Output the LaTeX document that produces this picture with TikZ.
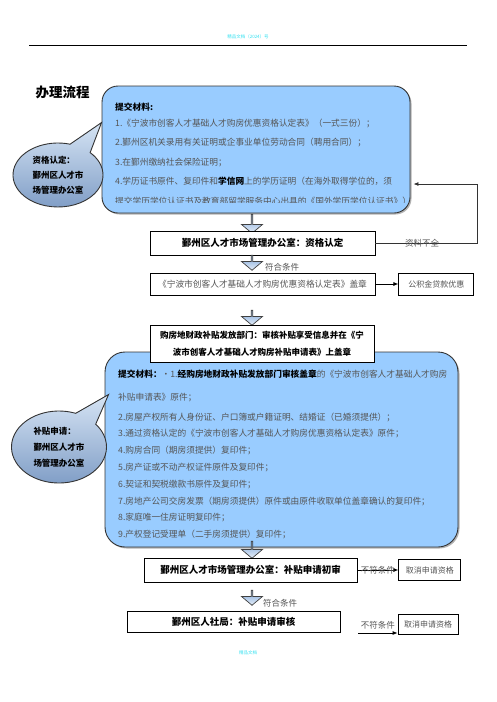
\documentclass[tikz,border=0pt]{standalone}
\usepackage{fontspec}
\setmainfont{Noto Sans CJK SC}
\usetikzlibrary{positioning,shapes.arrows,shapes.callouts,shadows,arrows.meta}

\definecolor{matblue}{HTML}{99CCFF}
\definecolor{txtgray}{HTML}{555555}
\definecolor{bubtop}{HTML}{D6E4F4}
\definecolor{bubbot}{HTML}{7F9DC6}
\definecolor{arrtop}{HTML}{7EA6DA}
\definecolor{arrbot}{HTML}{E6EEF8}
\definecolor{wmark}{HTML}{33E0F0}

\newcommand{\blk}[1]{\textcolor{black}{\bfseries #1}}

\tikzset{
  matbox/.style={draw=black!80, line width=0.9pt, fill=matblue, rounded corners=16pt,
    drop shadow={shadow xshift=1.5pt, shadow yshift=-1.5pt, opacity=0.6}},
  mattext/.style={anchor=north west, align=left, inner sep=0pt, text=txtgray,
    font=\fontsize{8.7}{19.5}\selectfont},
  bubble/.style={ellipse callout, draw=black!80, line width=0.9pt, top color=bubtop,
    bottom color=bubbot, callout pointer arc=30, inner sep=0pt, align=left},
  stepbox/.style={draw, line width=0.8pt, fill=white, inner sep=0pt,
    font=\fontsize{9.5}{12}\selectfont\bfseries},
  endbox/.style={draw, line width=0.8pt, fill=white, inner sep=0pt, text=txtgray,
    font=\fontsize{8}{10}\selectfont},
  downarr/.style={single arrow, shape border rotate=270, draw=black!75, line width=0.7pt,
    top color=arrtop, bottom color=arrbot, minimum width=21pt,
    single arrow head extend=5pt, single arrow tip angle=100, inner sep=0pt},
  lbl/.style={text=txtgray, font=\fontsize{8.5}{10}\selectfont, inner sep=0pt},
  wm/.style={text=wmark, font=\fontsize{4.5}{5}\selectfont, inner sep=0pt}
}

\begin{document}
\begin{tikzpicture}[x=1pt, y=-1pt, >={Latex[length=5pt,width=4pt]}]
  \useasboundingbox (0,0) rectangle (496,702);

  % header and footer
  \node[wm] (head) at (248,37) {精品文档（2024）号};
  \draw[line width=0.8pt] (29,45) -- (467,45);
  \node[wm] (foot) at (248,653) {精品文档};

  \node[font=\fontsize{13.5}{15}\selectfont\bfseries] (title) at (62.5,92) {办理流程};

  % qualification part
  \node[matbox, minimum width=308pt, minimum height=127pt] (matA) at (256,149.5) {};
  \begin{scope}
    \clip ([xshift=-5pt]matA.north west) rectangle ([yshift=10.5pt]matA.south east);
    \node[mattext] (listA) at (115,102.7) {\blk{提交材料:}\\[-3.5pt]
      1.《宁波市创客人才基础人才购房优惠资格认定表》（一式三份）；\\
      2.鄞州区机关录用有关证明或企事业单位劳动合同（聘用合同）；\\
      3.在鄞州缴纳社会保险证明；\\
      4.学历证书原件、复印件和\blk{学信网}上的学历证明（在海外取得学位的，须\\
      提交学历学位认证书及教育部留学服务中心出具的《国外学历学位认证书》）};
  \end{scope}
  \node[bubble, minimum width=90pt, minimum height=64pt,
    callout absolute pointer={([yshift=-37pt]matA.north west)},
    font=\fontsize{8.5}{15}\selectfont\bfseries] (askA) at (58,175)
    {资格认定：\\鄞州区人才市\\场管理办公室};

  \node[downarr, minimum height=19pt] (a1) at (252,223.5) {};
  \node[stepbox, minimum width=225pt, minimum height=24pt] (chk) at (262.5,243)
    {鄞州区人才市场管理办公室：资格认定};
  \coordinate (back) at (477,184);
  \draw[->, line width=0.8pt, black!80, shorten >=3pt] (chk.east)
    -| node[lbl, pos=0.23] {资料不全} (back) -- (back -| matA.east);

  \node[downarr, minimum height=15pt] (a2) at (252,262.5) {};
  \node[lbl] (ok1) at (282,267) {符合条件};
  \node[endbox, minimum width=225pt, minimum height=22pt,
    font=\fontsize{8.7}{10}\selectfont] (stamp) at (262.5,284)
    {《宁波市创客人才基础人才购房优惠资格认定表》盖章};
  \node[endbox, minimum width=75pt, minimum height=22pt] (fund) [right=23pt of stamp]
    {公积金贷款优惠};
  \draw[->, line width=0.8pt] (stamp) -- (fund);

  % subsidy part
  \node[downarr, minimum height=15pt] (a3) at (252,317.5) {};
  \node[matbox, rounded corners=20pt, minimum width=353pt, minimum height=195pt] (matB)
    at (281.5,449.5) {};
  \node[mattext, font=\fontsize{8.7}{16.8}\selectfont] (listB) at (118,369.7)
    {\blk{提交材料：}•1.\blk{经购房地财政补贴发放部门审核盖章}的《宁波市创客人才基础人才购房\\[6pt]
      补贴申请表》原件；\\[3pt]
      2.房屋产权所有人身份证、户口簿或户籍证明、结婚证（已婚须提供）；\\
      3.通过资格认定的《宁波市创客人才基础人才购房优惠资格认定表》原件；\\
      4.购房合同（期房须提供）复印件；\\
      5.房产证或不动产权证件原件及复印件；\\
      6.契证和契税缴款书原件及复印件；\\
      7.房地产公司交房发票（期房须提供）原件或由原件收取单位盖章确认的复印件；\\
      8.家庭唯一住房证明复印件；\\
      9.产权登记受理单（二手房须提供）复印件；};
  \node[stepbox, minimum width=224pt, minimum height=37pt, align=center,
    font=\fontsize{8.5}{17}\selectfont\bfseries] (dept) at (262,343.5)
    {购房地财政补贴发放部门：审核补贴享受信息并在《宁\\波市创客人才基础人才购房补贴申请表》上盖章};
  \node[bubble, minimum width=95pt, minimum height=72pt,
    callout absolute pointer={([xshift=4pt,yshift=-43pt]matB.north west)},
    font=\fontsize{8.5}{16}\selectfont\bfseries] (askB) at (59,447)
    {补贴申请：\\鄞州区人才市\\场管理办公室};

  \node[downarr, minimum height=17pt] (a4) at (252,549.5) {};
  \node[stepbox, minimum width=213pt, minimum height=24pt] (init) at (250.5,570)
    {鄞州区人才市场管理办公室：补贴申请初审};
  \node[endbox, minimum width=62pt, minimum height=21pt] (cancA) [right=41pt of init]
    {取消申请资格};
  \draw[->, line width=0.8pt] (init) -- node[lbl] {不符条件} (cancA);

  \node[downarr, minimum height=15pt] (a5) at (252,597.5) {};
  \node[lbl] (ok2) at (280,603) {符合条件};
  \node[stepbox, minimum width=213pt, minimum height=21pt] (review) at (233.5,621.5)
    {鄞州区人社局：补贴申请审核};
  \node[endbox, minimum width=60pt, minimum height=20pt] (cancB) at (428,624)
    {取消申请资格};
  \coordinate (nf) at (358,633);
  \draw[->, line width=0.8pt] (nf) -- node[lbl, above=3pt] {不符条件} (nf -| cancB.west);
\end{tikzpicture}
\end{document}
